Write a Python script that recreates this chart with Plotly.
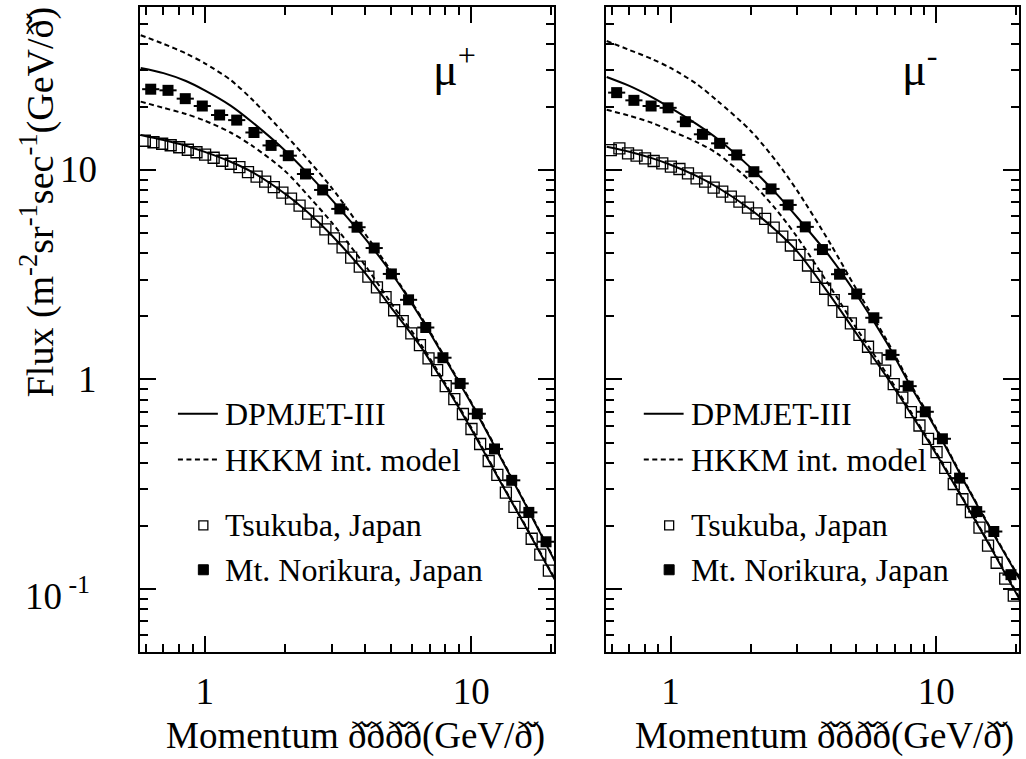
import math
import plotly.graph_objects as go

# ---------------- data ----------------
P_TSU = [0.596, 0.642, 0.692, 0.745, 0.802, 0.864, 0.931, 1.003, 1.080, 1.163, 1.253, 1.349,
         1.453, 1.565, 1.686, 1.816, 1.956, 2.107, 2.269, 2.444, 2.633, 2.836, 3.054, 3.290,
         3.544, 3.817, 4.111, 4.428, 4.770, 5.137, 5.533, 5.960, 6.420, 6.914, 7.448, 8.022,
         8.640, 9.306, 10.02, 10.80, 11.63, 12.53, 13.49, 14.53, 15.65, 16.86, 18.16, 19.56]
TSU_PLUS = [13.79, 13.56, 13.34, 13.12, 12.84, 12.49, 12.15, 11.83, 11.44, 11.07, 10.71, 10.31,
            9.76, 9.29, 8.80, 8.28, 7.80, 7.30, 6.76, 6.19, 5.67, 5.20, 4.71, 4.27,
            3.82, 3.46, 3.10, 2.75, 2.47, 2.14, 1.90, 1.66, 1.457, 1.262, 1.107, 0.929,
            0.806, 0.684, 0.580, 0.492, 0.408, 0.350, 0.288, 0.2465, 0.2068, 0.1736, 0.1457, 0.1222]
TSU_MINUS = [12.45, 12.67, 12.0, 11.70, 11.35, 11.04, 10.75, 10.37, 10.11, 9.63, 9.12, 8.80,
             8.24, 7.88, 7.46, 7.06, 6.61, 6.21, 5.84, 5.31, 4.81, 4.36, 3.93, 3.50,
             3.09, 2.71, 2.39, 2.10, 1.854, 1.634, 1.433, 1.262, 1.101, 0.950, 0.819, 0.699,
             0.603, 0.520, 0.450, 0.378, 0.317, 0.268, 0.233, 0.196, 0.161, 0.1334, 0.112, 0.0929]

P_NOR = [0.627, 0.728, 0.845, 0.979, 1.137, 1.318, 1.530, 1.774, 2.058, 2.388, 2.770, 3.213,
         3.728, 4.324, 5.016, 5.819, 6.751, 7.832, 9.087, 10.54, 12.23, 14.19, 16.45, 19.09]
NOR_PLUS = [24.3, 24.0, 21.9, 20.2, 18.3, 17.3, 15.1, 13.1, 11.7, 9.57, 8.03, 6.52,
            5.33, 4.24, 3.19, 2.40, 1.77, 1.27, 0.957, 0.686, 0.466, 0.330, 0.232, 0.168]
NOR_MINUS = [23.4, 21.5, 20.2, 19.8, 17.0, 14.8, 13.4, 11.8, 9.81, 8.12, 6.81, 5.35,
             4.17, 3.18, 2.56, 1.97, 1.31, 0.929, 0.701, 0.521, 0.338, 0.234, 0.188, 0.117]
NOR_BIN_RATIO = 1.16

P_CURVE = [0.575, 0.7, 0.85, 1.0, 1.25, 1.5, 2.0, 2.5, 3.0, 4.0, 5.0, 6.5, 8.0, 10.0, 13.0, 16.0, 20.7]
DPM_NOR_PLUS = [30.7, 29.0, 26.6, 24.0, 20.3, 17.0, 12.4, 9.3, 7.2, 4.7, 3.24, 1.95, 1.25, 0.77, 0.415, 0.252, 0.134]
HKKM_NOR_PLUS = [44.0, 40.0, 36.0, 32.3, 26.9, 21.8, 14.8, 10.8, 8.2, 4.95, 3.30, 1.98, 1.265, 0.778, 0.419, 0.254, 0.135]
DPM_TSU_PLUS = [14.7, 13.9, 13.05, 12.2, 10.95, 9.8, 7.7, 6.1, 4.87, 3.22, 2.21, 1.42, 0.935, 0.58, 0.317, 0.198, 0.1095]
HKKM_TSU_PLUS = [21.2, 19.8, 18.5, 17.2, 15.1, 13.1, 9.9, 7.3, 5.6, 3.5, 2.32, 1.46, 0.954, 0.589, 0.32, 0.20, 0.1106]
DPM_NOR_MINUS = [27.8, 25.2, 22.3, 19.8, 16.6, 14.1, 10.26, 7.71, 5.93, 3.82, 2.55, 1.50, 0.93, 0.575, 0.31, 0.193, 0.11]
HKKM_NOR_MINUS = [41.3, 37.4, 33.9, 30.7, 25.8, 21.4, 15.4, 11.0, 7.95, 4.43, 2.70, 1.545, 0.95, 0.584, 0.313, 0.195, 0.111]
DPM_TSU_MINUS = [12.91, 12.22, 11.39, 10.59, 9.37, 8.27, 6.48, 5.13, 4.08, 2.50, 1.66, 1.03, 0.69, 0.44, 0.25, 0.158, 0.088]
HKKM_TSU_MINUS = [19.37, 18.15, 16.8, 15.39, 13.63, 11.96, 8.81, 6.46, 4.77, 2.75, 1.76, 1.066, 0.704, 0.447, 0.2525, 0.16, 0.089]

X_TICKS = [1, 10]
X_TICKTEXT = ["1", "10"]
X_MINOR = [0.6, 0.7, 0.8, 0.9, 2, 3, 4, 5, 6, 7, 8, 9, 20]
Y_TICKS = [0.1, 1, 10]
Y_TICKTEXT = ["10<sup> -1</sup>", "1", "10"]
Y_MINOR = [0.05, 0.06, 0.07, 0.08, 0.09, 0.2, 0.3, 0.4, 0.5, 0.6, 0.7, 0.8, 0.9,
           2, 3, 4, 5, 6, 7, 8, 9, 20, 30, 40, 50, 60]

LEGEND_LINES = ["DPMJET-III", "HKKM int. model"]
LEGEND_MARKS = ["Tsukuba, Japan", "Mt. Norikura, Japan"]
X_TITLE = "Momentum ð̌ðð̌ð(GeV/ð̌)"
Y_TITLE = "Flux (m<sup>-2</sup>sr<sup>-1</sup>sec<sup>-1</sup>(GeV/ð̌)"
PANEL_LABELS = ["μ<sup>+</sup>", "μ<sup>-</sup>"]

# ---------------- figure ----------------
FONT = "Liberation Serif"
fig = go.Figure()

half = NOR_BIN_RATIO ** 0.5
panels = [
    ("x", "y", TSU_PLUS, NOR_PLUS, [DPM_NOR_PLUS, DPM_TSU_PLUS], [HKKM_NOR_PLUS, HKKM_TSU_PLUS]),
    ("x2", "y2", TSU_MINUS, NOR_MINUS, [DPM_NOR_MINUS, DPM_TSU_MINUS], [HKKM_NOR_MINUS, HKKM_TSU_MINUS]),
]
for xa, ya, tsu, nor, dpm, hkkm in panels:
    fig.add_trace(go.Scatter(x=P_TSU, y=tsu, mode="markers", xaxis=xa, yaxis=ya,
                             marker=dict(symbol="square-open", size=11, color="black",
                                         line=dict(width=1.3, color="black")),
                             showlegend=False))
    for c in hkkm:
        fig.add_trace(go.Scatter(x=P_CURVE, y=c, mode="lines", xaxis=xa, yaxis=ya,
                                 line=dict(color="black", width=2, dash="5px,3.5px",
                                           shape="spline", smoothing=0.8),
                                 showlegend=False))
    for c in dpm:
        fig.add_trace(go.Scatter(x=P_CURVE, y=c, mode="lines", xaxis=xa, yaxis=ya,
                                 line=dict(color="black", width=2, shape="spline", smoothing=0.8),
                                 showlegend=False))
    fig.add_trace(go.Scatter(x=P_NOR, y=nor, mode="markers", xaxis=xa, yaxis=ya,
                             marker=dict(symbol="square", size=11, color="black"),
                             error_x=dict(type="data", symmetric=False,
                                          array=[p * (half - 1) for p in P_NOR],
                                          arrayminus=[p * (1 - 1 / half) for p in P_NOR],
                                          color="black", thickness=2, width=0),
                             showlegend=False))

axis_common = dict(type="log", showline=True, linewidth=2, linecolor="black", mirror="allticks",
                   ticks="inside", ticklen=16, tickwidth=1.5, tickcolor="black",
                   showgrid=False, zeroline=False,
                   tickfont=dict(family=FONT, size=37, color="black"))
xcommon = dict(axis_common, range=[-0.243, 1.311], tickmode="array", tickvals=X_TICKS,
               ticktext=X_TICKTEXT, ticklabelstandoff=6,
               minor=dict(tickmode="array", tickvals=X_MINOR, ticks="inside", ticklen=8,
                          tickwidth=1.5, tickcolor="black", showgrid=False))
ycommon = dict(axis_common, range=[-1.301, 1.778], tickmode="array", tickvals=Y_TICKS,
               showticklabels=False,
               minor=dict(tickmode="array", tickvals=Y_MINOR, ticks="inside", ticklen=8,
                          tickwidth=1.5, tickcolor="black", showgrid=False))

fig.update_layout(
    width=1026, height=759,
    margin=dict(l=140, r=5, t=5, b=107),
    paper_bgcolor="white", plot_bgcolor="white",
    font=dict(family=FONT, color="black"),
    xaxis=dict(xcommon, domain=[0, 0.4711], anchor="y"),
    xaxis2=dict(xcommon, domain=[0.5301, 1], anchor="y2"),
    yaxis=dict(ycommon, domain=[0, 1], anchor="x"),
    yaxis2=dict(ycommon, domain=[0, 1], anchor="x2"),
)

shapes = []
annotations = []
title_x = [0.983, 0.993]
for i, (xd, yd) in enumerate([("x domain", "y domain"), ("x2 domain", "y2 domain")]):
    # legend keys
    shapes.append(dict(type="line", xref=xd, yref=yd, x0=0.0916, x1=0.188, y0=0.3694, y1=0.3694,
                       line=dict(color="black", width=2)))
    shapes.append(dict(type="line", xref=xd, yref=yd, x0=0.0916, x1=0.188, y0=0.2983, y1=0.2983,
                       line=dict(color="black", width=2, dash="5px,3.5px")))
    shapes.append(dict(type="rect", xref=xd, yref=yd, xsizemode="pixel", ysizemode="pixel",
                       xanchor=0.153, yanchor=0.1963, x0=-4.5, x1=4.5, y0=-4.5, y1=4.5,
                       line=dict(color="black", width=1.3), fillcolor="white"))
    shapes.append(dict(type="rect", xref=xd, yref=yd, xsizemode="pixel", ysizemode="pixel",
                       xanchor=0.153, yanchor=0.1275, x0=-5, x1=5, y0=-5, y1=5,
                       line=dict(color="black", width=1), fillcolor="black"))
    for txt, yy in zip(LEGEND_LINES + LEGEND_MARKS, [0.3694, 0.2983, 0.1963, 0.1275]):
        annotations.append(dict(text=txt, xref=xd, yref=yd, x=0.2, y=yy, xanchor="left",
                                yanchor="middle", showarrow=False,
                                font=dict(family=FONT, size=32, color="black")))
    annotations.append(dict(text=PANEL_LABELS[i], xref=xd, yref=yd, x=0.76, y=0.908,
                            xanchor="center", yanchor="middle", showarrow=False,
                            font=dict(family=FONT, size=46, color="black")))
    annotations.append(dict(text=X_TITLE, xref=xd, yref="paper", x=title_x[i], y=-0.131,
                            xanchor="right", yanchor="middle", showarrow=False,
                            font=dict(family=FONT, size=37, color="black")))

# y tick labels of the left panel
for val, txt in zip(Y_TICKS, Y_TICKTEXT):
    has_sup = "<sup>" in txt
    annotations.append(dict(text=txt, xref="paper", yref="y", x=-0.0465 if not has_sup else -0.0545,
                            y=math.log10(val), xanchor="right", yanchor="middle",
                            yshift=-5 if has_sup else 0, showarrow=False,
                            font=dict(family=FONT, size=37, color="black")))

annotations.append(dict(text=Y_TITLE, xref="paper", yref="paper", x=-0.1169, y=1.003,
                        xanchor="center", yanchor="top", textangle=-90, showarrow=False,
                        font=dict(family=FONT, size=38, color="black")))
fig.update_layout(shapes=shapes, annotations=annotations)

fig.write_html("out.html", config={"displayModeBar": False},
               post_script="document.body.style.margin='0px';")
